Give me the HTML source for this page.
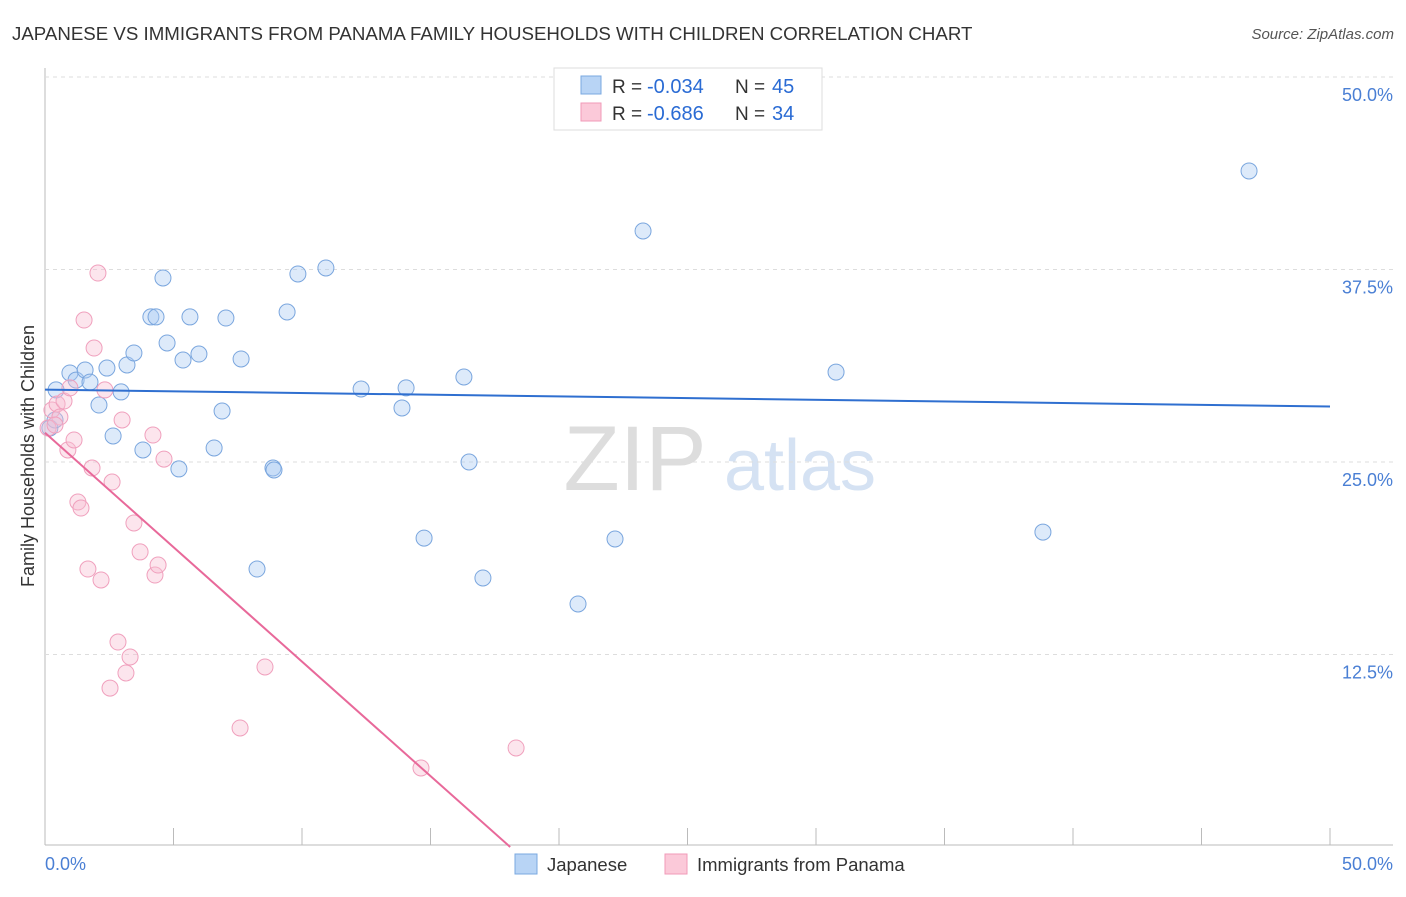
<!DOCTYPE html>
<html><head><meta charset="utf-8"><style>
body{margin:0;background:#fff;font-family:"Liberation Sans",sans-serif}
svg text{font-family:"Liberation Sans",sans-serif}
</style></head><body>
<svg id="chart" width="1406" height="892">
<text x="12" y="40" font-size="18.7" fill="#333">JAPANESE VS IMMIGRANTS FROM PANAMA FAMILY HOUSEHOLDS WITH CHILDREN CORRELATION CHART</text>
<text x="1394" y="39" font-size="15" fill="#555" font-style="italic" text-anchor="end">Source: ZipAtlas.com</text>
<g><text x="635" y="490" font-size="92" fill="#ddd" font-family="Liberation Serif" text-anchor="middle">ZIP</text><text x="800" y="490" font-size="72" fill="#d5e2f3" text-anchor="middle">atlas</text></g>
<g id="grid"></g><g id="pts"></g><g id="lines"></g>
<text transform="translate(34,456) rotate(-90)" font-size="18" fill="#333" text-anchor="middle">Family Households with Children</text>
<text x="45" y="870" font-size="18" fill="#4a7fd4">0.0%</text>
<text x="1393" y="870" font-size="18" fill="#4a7fd4" text-anchor="end">50.0%</text>
<g>
<rect x="554" y="68" width="268" height="62" fill="#fff" stroke="#ddd"/>
<rect x="581" y="76" width="20" height="18" fill="#b8d4f5" stroke="#7aa8e0"/>
<rect x="581" y="103" width="20" height="18" fill="#fbc9d9" stroke="#f09ab8"/>
<text x="612" y="93" font-size="19" fill="#333">R =</text><text x="647" y="93" font-size="20" fill="#2a6bd4">-0.034</text>
<text x="735" y="93" font-size="19" fill="#333">N =</text><text x="772" y="93" font-size="20" fill="#2a6bd4">45</text>
<text x="612" y="120" font-size="19" fill="#333">R =</text><text x="647" y="120" font-size="20" fill="#2a6bd4">-0.686</text>
<text x="735" y="120" font-size="19" fill="#333">N =</text><text x="772" y="120" font-size="20" fill="#2a6bd4">34</text>
</g>
<g>
<rect x="515" y="854" width="22" height="20" fill="#b8d4f5" stroke="#7aa8e0"/>
<text x="547" y="871" font-size="18.5" fill="#333">Japanese</text>
<rect x="665" y="854" width="22" height="20" fill="#fbc9d9" stroke="#f09ab8"/>
<text x="697" y="871" font-size="18.5" fill="#333">Immigrants from Panama</text>
</g>
</svg>
<script>
const yTicks=[12.5,25,37.5,50];
const xTicks=[0,5,10,15,20,25,30,35,40,45,50];
const japX=[0.43,0.97,1.21,1.56,1.75,2.10,2.41,2.65,2.96,3.19,3.46,3.81,4.12,4.32,4.59,4.75,5.21,5.37,5.64,5.99,6.58,6.89,7.04,7.63,8.25,8.87,8.91,9.42,9.84,10.93,12.30,13.89,14.05,14.75,16.30,16.50,17.04,20.74,22.18,23.27,30.78,38.83,46.85,0.19,0.39];
const japY=[29.68,30.78,30.32,30.97,30.19,28.70,31.10,26.69,29.55,31.30,32.08,25.78,34.42,34.42,36.95,32.73,24.55,31.62,34.42,32.01,25.91,28.31,34.35,31.69,18.05,24.61,24.48,34.74,37.21,37.60,29.74,28.51,29.81,20.06,30.52,25.0,17.47,15.78,20.0,40.0,30.84,20.45,43.90,27.21,27.73];
const panX=[0.12,0.27,0.47,0.58,0.74,0.89,0.97,1.13,1.28,1.40,1.52,1.67,1.83,1.91,2.06,2.18,2.33,2.53,2.61,2.84,3.0,3.15,3.31,3.46,3.70,4.20,4.28,4.40,4.63,7.59,8.56,14.63,18.33,0.39];
const panY=[27.21,28.38,28.77,27.92,28.96,25.78,29.81,26.43,22.40,22.01,34.22,18.05,24.61,32.40,37.27,17.34,29.68,10.32,23.70,13.31,27.73,11.30,12.34,21.04,19.16,26.75,17.66,18.31,25.19,7.73,11.69,5.13,6.43,27.40];
const japLine=[29.7,28.6];
const panLine=[26.9,0,18.1];
const NS='http://www.w3.org/2000/svg';
const sx=v=>45+v*25.7, sy=v=>847-v*15.4;
function mk(parent,tag,attrs){const e=document.createElementNS(NS,tag);for(const k in attrs)e.setAttribute(k,attrs[k]);document.getElementById(parent).appendChild(e);return e;}
let e=mk('grid','line',{x1:45,y1:845,x2:1393,y2:845,stroke:'#bbb'});


e=mk('grid','line',{x1:45,y1:68,x2:45,y2:845,stroke:'#bbb'});


yTicks.forEach(t=>{
 e=mk('grid','line',{x1:45,y1:sy(t),x2:1393,y2:sy(t),stroke:'#ddd','stroke-dasharray':'4,4'});
 
 
 e=mk('grid','text',{x:1393,y:sy(t)+24,'font-size':18,fill:'#4a7fd4','text-anchor':'end'});
 e.textContent=t.toFixed(1)+'%';
 
 
});
xTicks.forEach(t=>{
 e=mk('grid','line',{x1:sx(t),y1:828,x2:sx(t),y2:845,stroke:'#bbb'});
 
 
});
japX.forEach((x,i)=>{
 e=mk('pts','circle',{cx:sx(x),cy:sy(japY[i]),r:8,fill:'rgba(170,202,242,0.4)',stroke:'#7aa6de','stroke-width':1});
 
 
});
panX.forEach((x,i)=>{
 e=mk('pts','circle',{cx:sx(x),cy:sy(panY[i]),r:8,fill:'rgba(248,190,210,0.4)',stroke:'#f0a0bd','stroke-width':1});
 
 
});
e=mk('lines','line',{x1:sx(0),y1:sy(japLine[0]),x2:sx(50),y2:sy(japLine[1]),stroke:'#2f6fd0','stroke-width':2});


e=mk('lines','line',{x1:sx(0),y1:sy(panLine[0]),x2:sx(panLine[2]),y2:sy(panLine[1]),stroke:'#e8699a','stroke-width':2});


</script>
</body></html>
